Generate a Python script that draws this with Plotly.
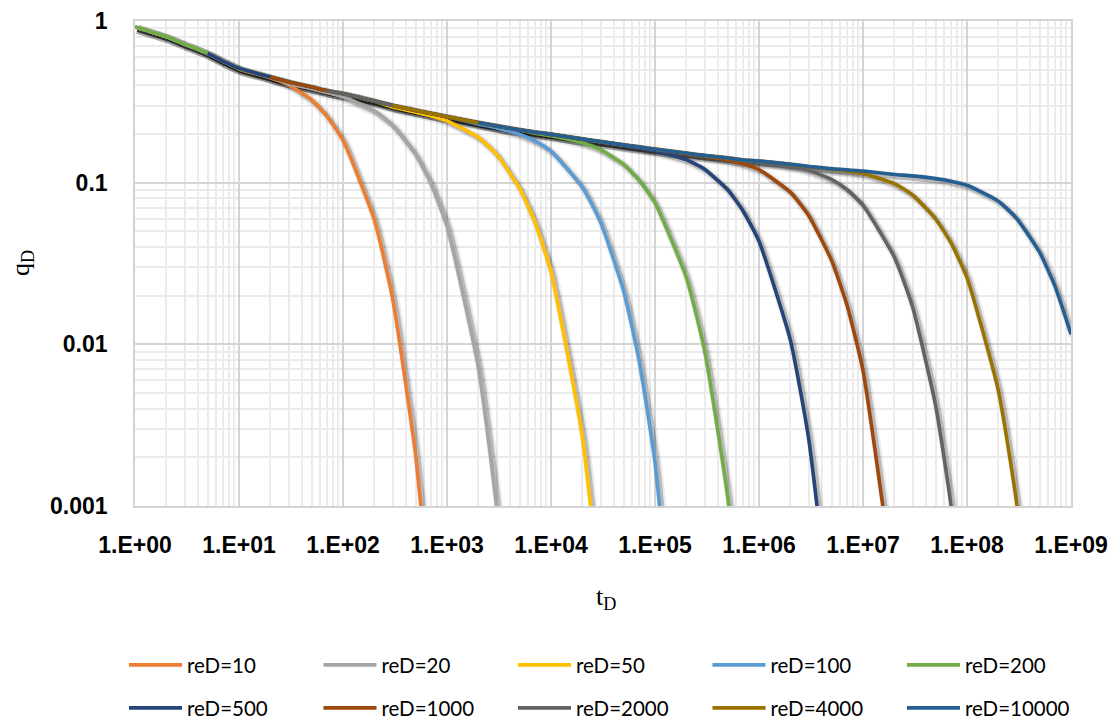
import plotly.graph_objects as go

# ---------------- data ----------------
SERIES_NAMES = ["reD=10", "reD=20", "reD=50", "reD=100", "reD=200",
                "reD=500", "reD=1000", "reD=2000", "reD=4000", "reD=10000"]
COLORS = ["#ED7D31", "#A5A5A5", "#FFC000", "#5B9BD5", "#70AD47",
          "#264478", "#9E480E", "#636363", "#997300", "#255E91"]

# shared infinite-acting stem (tD, qD)
ENV_T = [1, 2, 3, 5, 7, 10, 20, 30, 50, 70, 100, 200, 300, 500, 700,
         1e3, 2e3, 3e3, 5e3, 7e3, 1e4, 2e4, 3e4, 5e4, 7e4, 1e5, 2e5, 3e5,
         5e5, 7e5, 1e6, 2e6, 3e6, 5e6, 7e6, 1e7]
ENV_Q = [0.92, 0.80, 0.72, 0.63, 0.565, 0.51, 0.45, 0.42, 0.39, 0.37, 0.355,
         0.32, 0.30, 0.28, 0.268, 0.256, 0.235, 0.224, 0.212, 0.205, 0.199,
         0.186, 0.179, 0.171, 0.166, 0.161, 0.152, 0.147, 0.142, 0.138, 0.136,
         0.13, 0.126, 0.122, 0.12, 0.118]

# first tD of each series
START_T = [1, 1, 1, 1, 1, 5, 20, 70, 300, 2000]

# boundary-dominated part of each series
TAIL_T_10 = [10, 20, 30, 50, 70, 100, 200, 300, 500, 700]
TAIL_Q_10 = [0.505, 0.446, 0.4027, 0.3246, 0.2583, 0.1829, 0.0589, 0.01922, 0.002042, 0.0002166]
TAIL_T_20 = [30, 50, 70, 100, 200, 300, 500, 700, 1000, 2000, 3000, 5000]
TAIL_Q_20 = [0.4108, 0.3808, 0.3606, 0.3399, 0.2785, 0.2265, 0.1492, 0.0988, 0.0538, 0.00722, 0.000969, 0.0000175]
TAIL_T_50 = [300, 500, 700, 1e3, 2e3, 3e3, 5e3, 7e3, 1e4, 2e4, 3e4]
TAIL_Q_50 = [0.2934, 0.2727, 0.2587, 0.2412, 0.1912, 0.1496, 0.0918, 0.0569, 0.02804, 0.002689, 0.0002576]
TAIL_T_100 = [2e3, 3e3, 5e3, 7e3, 1e4, 2e4, 3e4, 5e4, 7e4, 1e5, 2e5]
TAIL_Q_100 = [0.2305, 0.218, 0.1989, 0.1813, 0.1566, 0.0938, 0.0568, 0.02131, 0.008044, 0.001865, 0.0000143]
TAIL_T_200 = [7e3, 1e4, 2e4, 3e4, 5e4, 7e4, 1e5, 2e5, 3e5, 5e5, 7e5]
TAIL_Q_200 = [0.2021, 0.1952, 0.1765, 0.16, 0.1297, 0.104, 0.0749, 0.02593, 0.009142, 0.001137, 0.0001415]
TAIL_T_500 = [5e4, 7e4, 1e5, 2e5, 3e5, 5e5, 7e5, 1e6, 2e6, 3e6, 5e6]
TAIL_Q_500 = [0.1691, 0.1636, 0.1572, 0.1387, 0.121, 0.0903, 0.0671, 0.0434, 0.01065, 0.002625, 0.0001596]
TAIL_T_1000 = [2e5, 3e5, 5e5, 7e5, 1e6, 2e6, 3e6, 5e6, 7e6, 1e7, 2e7]
TAIL_Q_1000 = [0.1508, 0.1454, 0.138, 0.1307, 0.1205, 0.0874, 0.0627, 0.0329, 0.01755, 0.00688, 0.000304]
TAIL_T_2000 = [7e5, 1e6, 2e6, 3e6, 5e6, 7e6, 1e7, 2e7, 3e7, 5e7, 7e7, 1e8]
TAIL_Q_2000 = [0.1373, 0.1348, 0.1267, 0.1192, 0.1046, 0.0907, 0.0725, 0.0347, 0.01702, 0.004164, 0.001018, 0.0001232]
TAIL_T_4000 = [3e6, 5e6, 7e6, 1e7, 2e7, 3e7, 5e7, 7e7, 1e8, 2e8, 3e8, 5e8]
TAIL_Q_4000 = [0.1254, 0.121, 0.1181, 0.1139, 0.0986, 0.0839, 0.0596, 0.0425, 0.0259, 0.00519, 0.001044, 0.0000422]
TAIL_T_10000 = [2e7, 3e7, 5e7, 7e7, 1e8, 2e8, 3e8, 5e8, 7e8, 1e9]
TAIL_Q_10000 = [0.1124, 0.1101, 0.1059, 0.1021, 0.0963, 0.0769, 0.0602, 0.037, 0.023, 0.01156]

TAILS_T = [TAIL_T_10, TAIL_T_20, TAIL_T_50, TAIL_T_100, TAIL_T_200,
           TAIL_T_500, TAIL_T_1000, TAIL_T_2000, TAIL_T_4000, TAIL_T_10000]
TAILS_Q = [TAIL_Q_10, TAIL_Q_20, TAIL_Q_50, TAIL_Q_100, TAIL_Q_200,
           TAIL_Q_500, TAIL_Q_1000, TAIL_Q_2000, TAIL_Q_4000, TAIL_Q_10000]

X_TICK_VALS = [1, 1e1, 1e2, 1e3, 1e4, 1e5, 1e6, 1e7, 1e8, 1e9]
X_TICK_TEXT = ["1.E+00", "1.E+01", "1.E+02", "1.E+03", "1.E+04",
               "1.E+05", "1.E+06", "1.E+07", "1.E+08", "1.E+09"]
Y_TICK_VALS = [0.001, 0.01, 0.1, 1]
Y_TICK_TEXT = ["0.001", "0.01", "0.1", "1"]
X_TITLE = "t<sub>D</sub>"
Y_TITLE = "q<sub>D</sub>"

# ---------------- figure ----------------
W, H = 1110, 723
M_L, M_R, M_T, M_B = 135, 39, 21, 217
PLOT_W = W - M_L - M_R
PLOT_H = H - M_T - M_B
SH_DX, SH_DY = 2.5, 2.5  # shadow offset in px

TICK_FONT = dict(family="Liberation Sans, Arial, sans-serif", size=23, color="#000000", weight="bold")
TITLE_FONT = dict(family="Liberation Serif, DejaVu Serif, serif", size=26, color="#000000")
LEG_FONT = dict(family="Lato, Open Sans, sans-serif", size=20.5, color="#000000")

# minor grid positions (2..9 in every decade)
X_MINOR = [k * 10.0 ** e for e in range(0, 9) for k in range(2, 10)]
Y_MINOR = [k * 10.0 ** e for e in range(-3, 0) for k in range(2, 10)]

fig = go.Figure()

series = []
for start, tt, qq in zip(START_T, TAILS_T, TAILS_Q):
    t = [a for a in ENV_T if start <= a < tt[0]]
    q = [b for a, b in zip(ENV_T, ENV_Q) if start <= a < tt[0]]
    series.append((t + tt, q + qq))

LINE_SHAPE = dict(shape="spline", smoothing=0.5)

# soft shadows on the base subplot (its range is shifted by a few pixels)
for (t, q) in series:
    fig.add_trace(go.Scatter(x=t, y=q, mode="lines", xaxis="x", yaxis="y",
                             line=dict(color="rgba(0,0,0,0.08)", width=9, **LINE_SHAPE),
                             showlegend=False, hoverinfo="skip"))
    fig.add_trace(go.Scatter(x=t, y=q, mode="lines", xaxis="x", yaxis="y",
                             line=dict(color="rgba(0,0,0,0.21)", width=5, **LINE_SHAPE),
                             showlegend=False, hoverinfo="skip"))

# series lines on the overlay subplot (true range, carries grid and ticks)
for i, ((t, q), name, col) in enumerate(zip(series, SERIES_NAMES, COLORS)):
    fig.add_trace(go.Scatter(x=t, y=q, mode="lines", name=name, xaxis="x2", yaxis="y2",
                             line=dict(color=col, width=3.6, **LINE_SHAPE),
                             legend="legend" if i == 0 else "legend%d" % (i + 1)))

dx_log = SH_DX / (PLOT_W / 9.0)
dy_log = SH_DY / (PLOT_H / 3.0)

legends = {}
for i in range(10):
    key = "legend" if i == 0 else "legend%d" % (i + 1)
    col, row = i % 5, i // 5
    legends[key] = dict(orientation="h", xref="container", yref="container",
                        x=(124 + 194.5 * col) / W, y=1 - (665 + 43 * row) / H,
                        xanchor="left", yanchor="middle", itemwidth=53,
                        font=LEG_FONT, bgcolor="rgba(0,0,0,0)")


def px_to_paper_x(px):
    return (px - M_L) / PLOT_W


def px_to_paper_y(py):
    return 1 - (py - M_T) / PLOT_H


fig.update_layout(
    width=W, height=H,
    margin=dict(l=M_L, r=M_R, t=M_T, b=M_B, autoexpand=False),
    paper_bgcolor="white", plot_bgcolor="white",
    xaxis=dict(type="log", range=[0 - dx_log, 9 - dx_log], visible=False),
    yaxis=dict(type="log", range=[-3 + dy_log, 0 + dy_log], visible=False),
    xaxis2=dict(type="log", overlaying="x", anchor="y2", side="bottom", range=[0, 9],
                tickmode="array", tickvals=X_TICK_VALS, ticktext=X_TICK_TEXT,
                showgrid=True, gridcolor="#d4d4d4", gridwidth=1.6,
                minor=dict(tickmode="array", tickvals=X_MINOR, showgrid=True,
                           gridcolor="#ebebeb", gridwidth=1.6, ticks=""),
                showline=True, mirror=True, linecolor="#d4d4d4", linewidth=1.6,
                ticks="", tickfont=TICK_FONT, ticklabelstandoff=18, zeroline=False,
                ticklabeloverflow="allow"),
    yaxis2=dict(type="log", overlaying="y", anchor="x2", side="left", range=[-3, 0],
                tickmode="array", tickvals=Y_TICK_VALS, ticktext=Y_TICK_TEXT,
                showgrid=True, gridcolor="#d4d4d4", gridwidth=1.6,
                minor=dict(tickmode="array", tickvals=Y_MINOR, showgrid=True,
                           gridcolor="#ebebeb", gridwidth=1.6, ticks=""),
                showline=True, mirror=True, linecolor="#d4d4d4", linewidth=1.6,
                ticks="", tickfont=TICK_FONT, ticklabelstandoff=21, zeroline=False,
                ticklabeloverflow="allow"),
    annotations=[
        dict(text=X_TITLE, xref="paper", yref="paper", x=px_to_paper_x(606), y=px_to_paper_y(598),
             xanchor="center", yanchor="middle", showarrow=False, font=TITLE_FONT),
        dict(text=Y_TITLE, xref="paper", yref="paper", x=px_to_paper_x(22), y=px_to_paper_y(263),
             xanchor="center", yanchor="middle", showarrow=False, font=TITLE_FONT, textangle=-90),
    ],
    showlegend=True,
    **legends,
)

# remove the default 8 px page margin so the 1110x723 figure fills the window
fig.write_html("out.html",
               config={"displayModeBar": False},
               post_script="document.body.style.margin='0px';document.body.style.overflow='hidden';")
